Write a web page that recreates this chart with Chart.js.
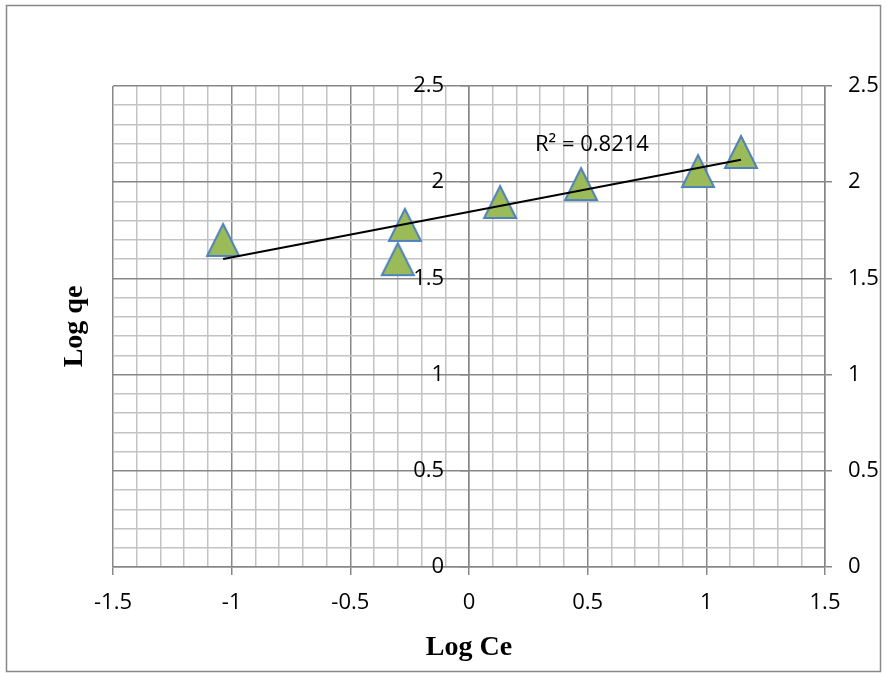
<!DOCTYPE html>
<html>
<head>
<meta charset="utf-8">
<script src="https://cdn.jsdelivr.net/npm/chart.js@4.4.1/dist/chart.umd.min.js"></script>
<style>
  html, body { margin: 0; padding: 0; background: #fff; }
  #wrap { width: 886px; height: 673px; position: relative; }
</style>
</head>
<body>
<div id="wrap"><canvas id="chart"></canvas></div>
<script>
// Log Ce (x) and Log qe (y)
const LOG_CE = [-1.036, -0.30, -0.27, 0.131, 0.472, 0.965, 1.146];
const LOG_QE = [1.70, 1.60, 1.778, 1.897, 1.99, 2.058, 2.157];

const X_MIN = -1.5, X_MAX = 1.5;
const Y_MIN = 0, Y_MAX = 2.5;
const R2_TEXT = 'R\u00b2 = 0.8214';
const R2_AT = { x: 0.278, y: 2.193 };
// labels of the crossing axis sit a little left of x = 0
const Y_LABELS_AT = -0.105;

const TICK_FONT = { family: "'Open Sans', sans-serif", size: 22 };
const TITLE_FONT = { family: "'Liberation Serif', 'Times New Roman', serif", size: 28, weight: 'bold' };
const MAJOR = '#878787';
const MINOR = '#c3c3c3';

// linear trend line (least squares over the points)
function trend(xs, ys) {
    const n = xs.length;
    const mx = xs.reduce((a, b) => a + b, 0) / n;
    const my = ys.reduce((a, b) => a + b, 0) / n;
    let sxy = 0, sxx = 0;
    xs.forEach((x, i) => {
        sxy += (x - mx) * (ys[i] - my);
        sxx += (x - mx) * (x - mx);
    });
    const b = sxy / sxx;
    const a = my - b * mx;
    const lo = Math.min(...xs), hi = Math.max(...xs);
    return [{ x: lo, y: a + b * lo }, { x: hi, y: a + b * hi }];
}

function isMajor(v) {
    return Math.abs(v * 2 - Math.round(v * 2)) < 1e-6;
}

function fmt(v) {
    return String(Math.round(v * 10) / 10);
}

// excel style triangle marker
const marker = document.createElement('canvas');
marker.width = 36;
marker.height = 36;
(function () {
    const c = marker.getContext('2d');
    c.beginPath();
    c.moveTo(18, 2);
    c.lineTo(34, 34);
    c.lineTo(2, 34);
    c.closePath();
    c.fillStyle = '#9bbb59';
    c.fill();
    c.lineWidth = 2;
    c.strokeStyle = '#4f81bd';
    c.stroke();
})();

const framePlugin = {
    id: 'frame',
    beforeDraw(chart) {
        const ctx = chart.ctx;
        ctx.save();
        ctx.fillStyle = '#fff';
        ctx.fillRect(0, 0, chart.width, chart.height);
        ctx.strokeStyle = MAJOR;
        ctx.lineWidth = 1.5;
        ctx.strokeRect(6.5, 5.5, 874, 666);
        ctx.restore();
    }
};

const r2Plugin = {
    id: 'r2label',
    afterDatasetsDraw(chart) {
        const ctx = chart.ctx;
        const px = chart.scales.x.getPixelForValue(R2_AT.x);
        const py = chart.scales.y.getPixelForValue(R2_AT.y);
        ctx.save();
        ctx.font = `${TICK_FONT.size}px ${TICK_FONT.family}`;
        ctx.fillStyle = '#000';
        ctx.textAlign = 'left';
        ctx.textBaseline = 'middle';
        ctx.fillText(R2_TEXT, px, py);
        ctx.restore();
    }
};

const gridColor = (ctx) => isMajor(ctx.tick.value) ? MAJOR : MINOR;
const tickColor = (ctx) => isMajor(ctx.tick.value) ? MAJOR : 'rgba(0,0,0,0)';

new Chart(document.getElementById('chart'), {
    type: 'scatter',
    data: {
        datasets: [
            {
                type: 'line',
                data: trend(LOG_CE, LOG_QE),
                borderColor: '#000',
                borderWidth: 2,
                pointRadius: 0,
                fill: false,
                order: 0
            },
            {
                data: LOG_CE.map((x, i) => ({ x: x, y: LOG_QE[i] })),
                pointStyle: marker,
                pointRadius: 16,
                order: 1
            }
        ]
    },
    options: {
        responsive: true,
        maintainAspectRatio: false,
        animation: false,
        events: [],
        layout: { padding: { top: 86, left: 0, right: 0, bottom: 0 } },
        plugins: {
            legend: { display: false },
            tooltip: { enabled: false }
        },
        scales: {
            x: {
                type: 'linear',
                position: 'bottom',
                min: X_MIN,
                max: X_MAX,
                afterFit: (s) => { s.height = 106; },
                ticks: {
                    stepSize: 0.1,
                    autoSkip: false,
                    maxRotation: 0,
                    padding: 15,
                    color: '#000',
                    font: TICK_FONT,
                    callback: (v) => isMajor(v) ? fmt(v) : ''
                },
                grid: { color: gridColor, tickColor: tickColor, tickLength: 8, lineWidth: 1.5 },
                border: { color: MAJOR, width: 1.5 },
                title: {
                    display: true,
                    text: 'Log Ce',
                    color: '#000',
                    font: TITLE_FONT,
                    padding: { top: 0, bottom: 8 }
                }
            },
            y: {
                type: 'linear',
                position: { x: 0 },
                min: Y_MIN,
                max: Y_MAX,
                afterFit: (s) => { s.width = 0; },
                ticks: {
                    stepSize: 0.1,
                    autoSkip: false,
                    color: 'rgba(0,0,0,0)',
                    font: TICK_FONT,
                    callback: (v) => isMajor(v) ? fmt(v) : ''
                },
                grid: { color: gridColor, tickColor: tickColor, tickLength: 8, lineWidth: 1.5 },
                border: { color: MAJOR, width: 1.5 }
            },
            yLabels: {
                type: 'linear',
                position: { x: Y_LABELS_AT },
                min: Y_MIN,
                max: Y_MAX,
                afterFit: (s) => { s.width = 0; },
                ticks: {
                    stepSize: 0.5,
                    color: '#000',
                    font: TICK_FONT,
                    callback: (v) => fmt(v)
                },
                grid: { display: false },
                border: { display: false }
            },
            yRight: {
                type: 'linear',
                position: 'right',
                min: Y_MIN,
                max: Y_MAX,
                afterFit: (s) => { s.width = 61; },
                ticks: {
                    stepSize: 0.5,
                    padding: 16,
                    color: '#000',
                    font: TICK_FONT,
                    callback: (v) => fmt(v)
                },
                grid: { drawOnChartArea: false, color: MAJOR, tickLength: 7, lineWidth: 1.5 },
                border: { color: MAJOR, width: 1.5 }
            },
            yTitle: {
                type: 'linear',
                position: 'left',
                min: Y_MIN,
                max: Y_MAX,
                afterFit: (s) => { s.width = 113; },
                ticks: { display: false },
                grid: { display: false },
                border: { display: false },
                title: {
                    display: true,
                    text: 'Log qe',
                    color: '#000',
                    font: TITLE_FONT,
                    padding: { top: 58, bottom: 0 }
                }
            }
        }
    },
    plugins: [framePlugin, r2Plugin]
});
</script>
</body>
</html>
